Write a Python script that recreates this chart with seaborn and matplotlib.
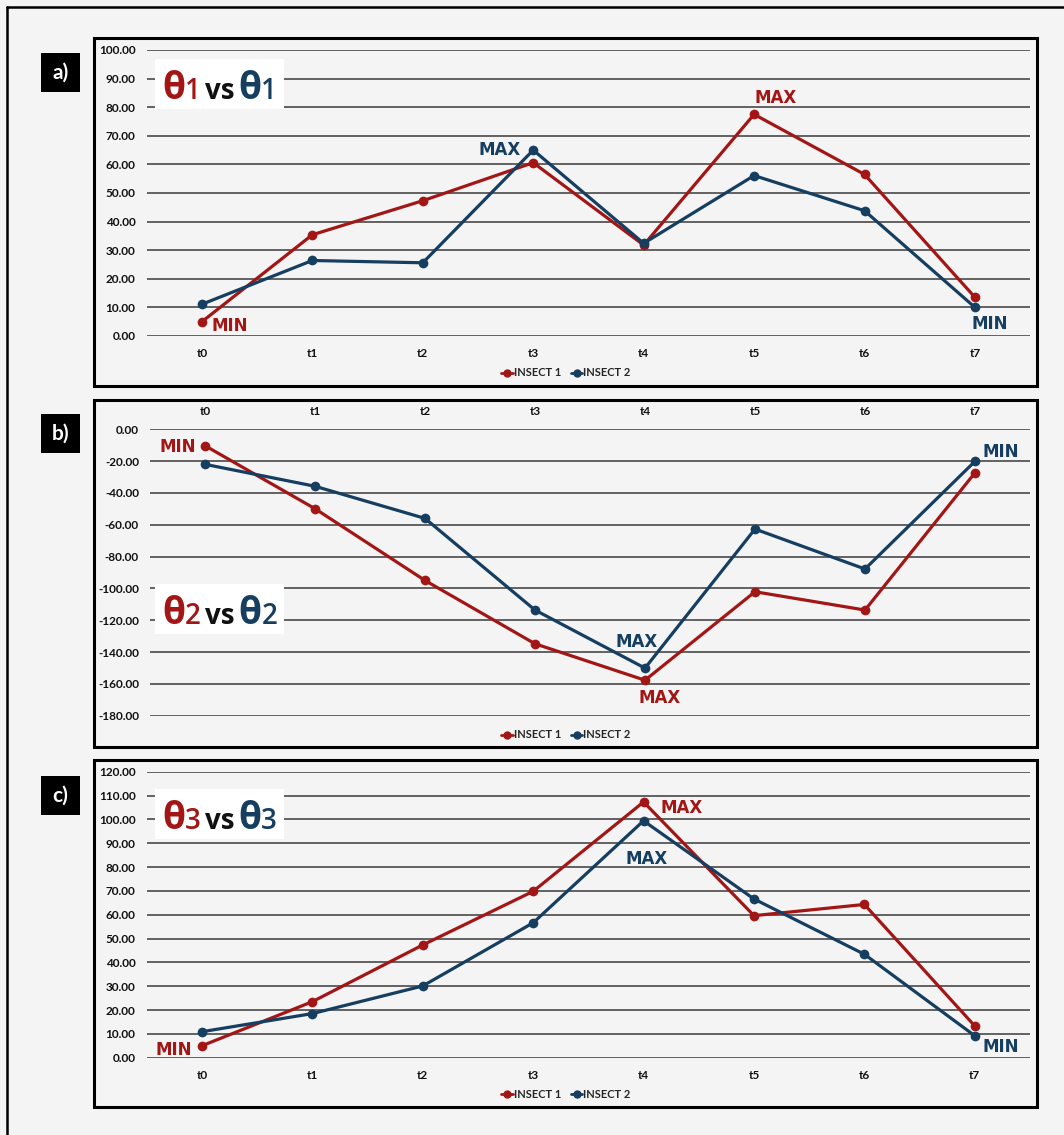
import numpy as np
import pandas as pd
import matplotlib
matplotlib.use("Agg")
import matplotlib.pyplot as plt
from matplotlib.patches import Rectangle
from matplotlib.lines import Line2D
import seaborn as sns

# ---- data -------------------------------------------------------------
times = ["t0", "t1", "t2", "t3", "t4", "t5", "t6", "t7"]
series_names = ["INSECT 1", "INSECT 2"]

theta1_insect1 = [5.0, 35.4, 47.3, 60.6, 31.8, 77.5, 56.5, 13.5]
theta1_insect2 = [11.1, 26.4, 25.6, 65.0, 32.4, 56.1, 43.8, 10.0]

theta2_insect1 = [-10.3, -49.9, -95.0, -134.8, -157.7, -102.1, -113.6, -27.3]
theta2_insect2 = [-22.0, -35.8, -56.0, -113.6, -150.1, -62.7, -87.8, -20.1]

theta3_insect1 = [5.0, 23.5, 47.3, 69.8, 107.3, 59.6, 64.3, 13.3]
theta3_insect2 = [10.9, 18.5, 30.1, 56.6, 99.4, 66.6, 43.4, 9.2]

panel_tags = ["a)", "b)", "c)"]
theta_digits = ["1", "2", "3"]

# ---- style ------------------------------------------------------------
W, H = 1064, 1135
RED = "#A31616"
BLUE = "#153E60"
BG = "#F4F4F4"
GRID = "#3A3A3A"

sns.set_theme(style="white")
plt.rcParams["font.family"] = ["Lato", "DejaVu Sans"]
plt.rcParams["font.weight"] = "bold"

fig = plt.figure(figsize=(W / 100, H / 100), dpi=100, facecolor=BG)


def fx(px):
    return px / W


def fy(py):
    return 1 - py / H


def frame(vals1, vals2):
    return pd.DataFrame({
        "time": times * 2,
        "value": list(vals1) + list(vals2),
        "insect": [series_names[0]] * len(times) + [series_names[1]] * len(times),
    })


# panel layout in pixels: box, plot area, y-range, tick step
panels = [
    dict(vals=(theta1_insect1, theta1_insect2), box=(94, 38, 1037, 386),
         plot=(146.7, 50, 1030.2, 336), ylim=(0, 100), step=10, top=False,
         tag_y=53, title_base=99, legend_y=373,
         notes={("r", "min"): ("left", 10, -4), ("b", "max"): ("right", -12, 0),
                ("r", "max"): ("left", 0, 16), ("b", "min"): ("left", -3, -17)}),
    dict(vals=(theta2_insect1, theta2_insect2), box=(94, 400, 1037, 747),
         plot=(150, 429.3, 1030, 715.7), ylim=(-180, 0), step=20, top=True,
         tag_y=414, title_base=624, legend_y=735,
         notes={("r", "min"): ("right", -9, -1), ("b", "max"): ("center", -8, 26),
                ("r", "max"): ("left", -6, -18), ("b", "min"): ("left", 8, 9)}),
    dict(vals=(theta3_insect1, theta3_insect2), box=(94, 760, 1037, 1107),
         plot=(146.7, 771.7, 1030, 1057.7), ylim=(0, 120), step=10, top=False,
         tag_y=776, title_base=829, legend_y=1094,
         notes={("r", "min"): ("right", -10, -4), ("r", "max"): ("left", 17, -6),
                ("b", "max"): ("center", 3, -38), ("b", "min"): ("left", 8, -11)}),
]

# outer frame (left and top edges)
fig.add_artist(Line2D([fx(7), fx(7)], [fy(7), 0], color="black", lw=1.8,
                      transform=fig.transFigure))
fig.add_artist(Line2D([fx(7), 1], [fy(7), fy(7)], color="black", lw=1.8,
                      transform=fig.transFigure))

renderer = fig.canvas.get_renderer()

for k, p in enumerate(panels):
    # panel box
    x0, y0, x1, y1 = p["box"]
    fig.add_artist(Rectangle((fx(x0), fy(y1)), fx(x1 - x0), (y1 - y0) / H,
                             transform=fig.transFigure, facecolor=BG,
                             edgecolor="black", lw=2.2, zorder=0))

    # tag box
    fig.add_artist(Rectangle((fx(41), fy(p["tag_y"] + 39)), fx(39), 39 / H,
                             transform=fig.transFigure, facecolor="black",
                             edgecolor="none", zorder=1))
    fig.text(fx(60.5), fy(p["tag_y"] + 19.5), panel_tags[k], color="white",
             fontsize=15, fontweight="bold", ha="center", va="center",
             family=["Lato", "DejaVu Sans"])

    # plot axes
    l, t, r, b = p["plot"]
    ax = fig.add_axes([fx(l), fy(b), fx(r - l), (b - t) / H])
    ax.set_facecolor("none")
    data = frame(*p["vals"])
    sns.lineplot(data=data, x="time", y="value", hue="insect",
                 palette=[RED, BLUE], marker="o", markersize=7,
                 markeredgewidth=0, linewidth=2.3, sort=False, ax=ax,
                 legend=False, zorder=3)
    ax.set_xlim(-0.5, len(times) - 0.5)
    ax.set_ylim(*p["ylim"])
    ax.set_yticks(np.arange(p["ylim"][0], p["ylim"][1] + 0.1, p["step"]))
    ax.yaxis.set_major_formatter(matplotlib.ticker.FormatStrFormatter("%.2f"))
    ax.grid(axis="y", color=GRID, lw=1.1, zorder=1)
    ax.grid(axis="x", visible=False)
    for s in ax.spines.values():
        s.set_visible(False)
    ax.tick_params(axis="both", length=0, labelsize=8.5, colors="#111111")
    ax.tick_params(axis="y", pad=8)
    ax.tick_params(axis="x", pad=9)
    for lab in ax.get_xticklabels() + ax.get_yticklabels():
        lab.set_fontweight("bold")
    if p["top"]:
        ax.xaxis.tick_top()
    ax.set_xlabel("")
    ax.set_ylabel("")

    # MIN / MAX call-outs (by magnitude of the angle)
    for key, vals, col in (("r", p["vals"][0], RED), ("b", p["vals"][1], BLUE)):
        arr = np.abs(np.asarray(vals))
        for kind, idx in (("min", int(np.argmin(arr))), ("max", int(np.argmax(arr)))):
            ha, dx, dy = p["notes"][(key, kind)]
            ax.annotate(kind.upper(), xy=(idx, vals[idx]), xytext=(dx, dy),
                        textcoords="offset pixels", ha=ha, va="center",
                        color=col, fontsize=12, fontweight="bold",
                        family=["DejaVu Sans"], zorder=5,
                        annotation_clip=False)

    # title card: θn vs θn
    fig.add_artist(Rectangle((fx(155), fy(p["title_base"] + 10)), fx(129), 50 / H,
                             transform=fig.transFigure, facecolor="white",
                             edgecolor="none", zorder=2))
    pieces = [("θ", RED, 27, "bold", 0),
              (theta_digits[k], RED, 20, "semibold", 4),
              ("vs", "#111111", 20, "bold", 4),
              ("θ", BLUE, 27, "bold", 0),
              (theta_digits[k], BLUE, 20, "semibold", 0)]
    xpos = 162
    for txt, col, size, wt, gap in pieces:
        tt = fig.text(fx(xpos), fy(p["title_base"]), txt, color=col,
                      fontsize=size, fontweight=wt, ha="left", va="baseline",
                      family=["Open Sans", "DejaVu Sans"], zorder=3)
        xpos += tt.get_window_extent(renderer).width + gap

    # legend
    handles = [Line2D([], [], color=RED, marker="o", markersize=5, lw=2),
               Line2D([], [], color=BLUE, marker="o", markersize=5, lw=2)]
    fig.legend(handles, series_names, loc="center", ncol=2,
               bbox_to_anchor=(fx(566), fy(p["legend_y"])), frameon=False,
               handlelength=1.0, handletextpad=0.1, columnspacing=0.9,
               prop={"size": 8, "weight": "bold", "family": ["Lato", "DejaVu Sans"]})

fig.savefig("out.png", dpi=100, facecolor=BG)
